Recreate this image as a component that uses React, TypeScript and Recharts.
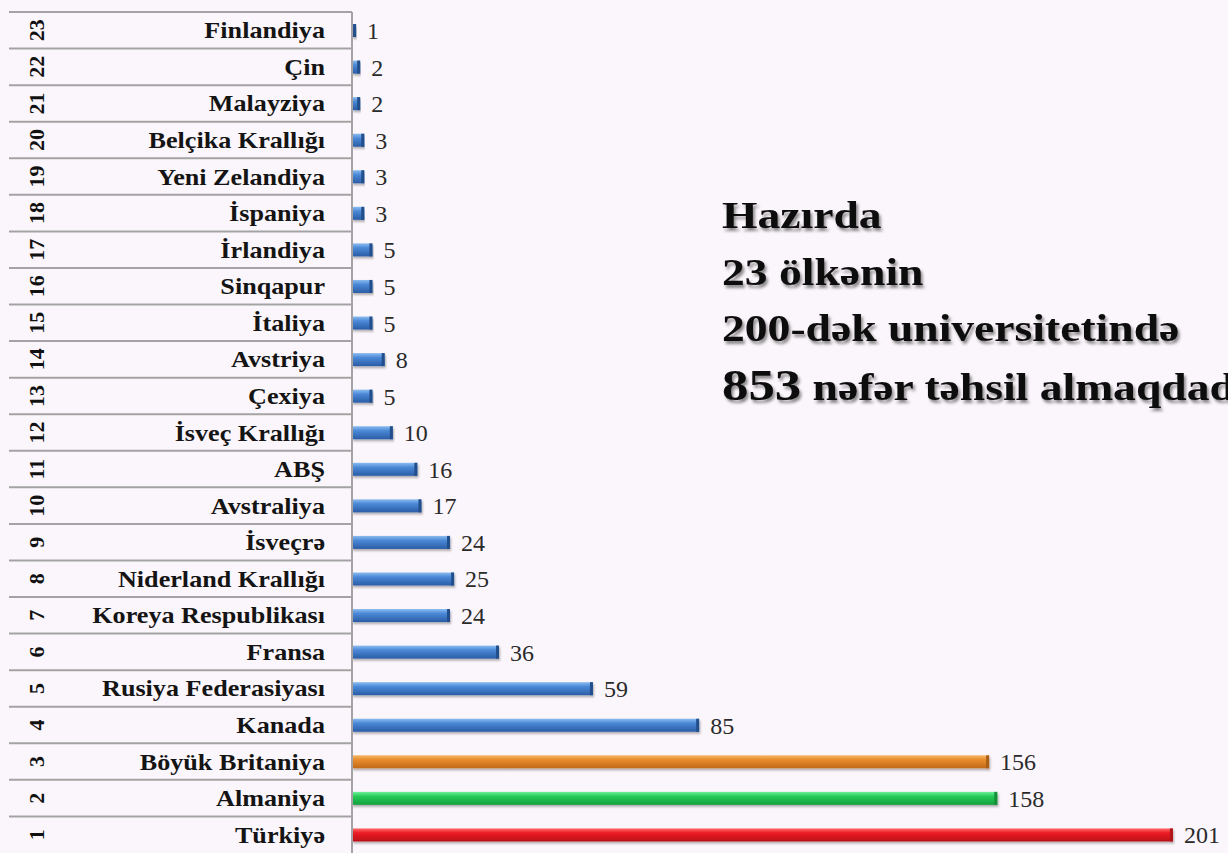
import React from "react";
import { BarChart, Bar, XAxis, YAxis, LabelList } from "recharts";

// countries in rank order (1 = Türkiyə)
const countries = [
  "Türkiyə",
  "Almaniya",
  "Böyük Britaniya",
  "Kanada",
  "Rusiya Federasiyası",
  "Fransa",
  "Koreya Respublikası",
  "Niderland Krallığı",
  "İsveçrə",
  "Avstraliya",
  "ABŞ",
  "İsveç Krallığı",
  "Çexiya",
  "Avstriya",
  "İtaliya",
  "Sinqapur",
  "İrlandiya",
  "İspaniya",
  "Yeni Zelandiya",
  "Belçika Krallığı",
  "Malayziya",
  "Çin",
  "Finlandiya",
];

const students = [201, 158, 156, 85, 59, 36, 24, 25, 24, 17, 16, 10, 5, 8, 5, 5, 5, 3, 3, 3, 2, 2, 1];

const headline = ["Hazırda", "23 ölkənin", "200-dək universitetində"];
const totalCount = "853";
const totalText = "nəfər təhsil almaqdadır";

const W = 1228;
const H = 853;
const TOP = 12;
const AXIS_W = 352;
const SERIF = "'Liberation Serif', 'Times New Roman', serif";

const data = countries.map((name, i) => ({ name, value: students[i], rank: i + 1 }));

function gradFor(rank: number) {
  if (rank === 1) return "red";
  if (rank === 2) return "green";
  if (rank === 3) return "orange";
  return "blue";
}

const capColor: Record<string, string> = {
  red: "#b0121a",
  green: "#159038",
  orange: "#a85e18",
  blue: "#244f8c",
};

function BarShape(props: any) {
  const { x, y, width, height, payload } = props;
  if (width <= 0) return null;
  const g = gradFor(payload.rank);
  const cap = Math.min(3, width);
  return (
    <g filter="url(#barShadow)">
      <rect x={x} y={y} width={width} height={height} fill={`url(#g-${g})`} />
      <rect x={x + width - cap} y={y} width={cap} height={height} fill={capColor[g]} />
    </g>
  );
}

function RowTick(props: any) {
  const { y, payload } = props;
  const band = (H - TOP) / countries.length;
  const rank = countries.indexOf(payload.value) + 1;
  return (
    <g>
      <line x1={9} x2={AXIS_W} y1={y - band / 2} y2={y - band / 2} stroke="#a3a3a3" strokeWidth={2} />
      <text
        transform={`translate(36, ${y}) rotate(-90)`}
        textAnchor="middle"
        dominantBaseline="central"
        fontFamily={SERIF}
        fontWeight="bold"
        fontSize={22}
        fill="#111"
      >
        {rank}
      </text>
      <text
        transform={`translate(325, ${y + 8}) scale(1.09, 1)`}
        textAnchor="end"
        fontFamily={SERIF}
        fontWeight="bold"
        fontSize={24}
        fill="#141414"
      >
        {payload.value}
      </text>
    </g>
  );
}

const stops = [
  ["blue", "#8bbcf0", "#4a88d6", "#2a5ca6"],
  ["orange", "#f6b566", "#e98b2b", "#c06a18"],
  ["green", "#6ef09a", "#25c956", "#15a040"],
  ["red", "#ff6a6a", "#ec1c24", "#b90f18"],
];

export default function App() {
  return (
    <div
      style={{
        position: "absolute",
        left: 0,
        top: 0,
        width: W,
        height: H,
        overflow: "hidden",
        background: "#fbf6fb",
      }}
    >
      <BarChart
        width={W}
        height={H}
        data={data}
        layout="vertical"
        margin={{ top: TOP, right: 2, left: 0, bottom: 0 }}
        barSize={13}
      >
        <defs>
          {stops.map(([id, a, b, c]) => (
            <linearGradient key={id} id={`g-${id}`} x1="0" y1="0" x2="0" y2="1">
              <stop offset="0%" stopColor={a} />
              <stop offset="35%" stopColor={b} />
              <stop offset="100%" stopColor={c} />
            </linearGradient>
          ))}
          <filter id="barShadow" x="-5%" y="-50%" width="110%" height="220%">
            <feDropShadow dx="1" dy="2" stdDeviation="1.2" floodColor="#000" floodOpacity="0.3" />
          </filter>
        </defs>
        <XAxis type="number" domain={[0, 214]} hide />
        <YAxis
          type="category"
          dataKey="name"
          reversed
          width={AXIS_W}
          interval={0}
          tickLine={false}
          axisLine={{ stroke: "#a3a3a3", strokeWidth: 2 }}
          tick={<RowTick />}
        />
        <Bar dataKey="value" shape={<BarShape />} isAnimationActive={false}>
          <LabelList
            dataKey="value"
            position="right"
            offset={11}
            fontFamily={SERIF}
            fontSize={24}
            fill="#2a2a2a"
          />
        </Bar>
      </BarChart>
      <svg
        width={W}
        height={H}
        style={{ position: "absolute", left: 0, top: 0, pointerEvents: "none" }}
      >
        <defs>
          <filter id="textShadow" x="-5%" y="-20%" width="110%" height="150%">
            <feDropShadow dx="2" dy="3" stdDeviation="1.8" floodColor="#000" floodOpacity="0.45" />
          </filter>
        </defs>
        <g fontFamily={SERIF} fontWeight="bold" fill="#0a0a0a" filter="url(#textShadow)">
          {headline.map((line, i) => (
            <text key={line} transform={`translate(722, ${228 + i * 56.5}) scale(1.2, 1)`} fontSize={38}>
              {line}
            </text>
          ))}
          <text transform="translate(722, 400) scale(1.2, 1)" fontSize={38}>
            <tspan fontSize={44}>{totalCount}</tspan>
            <tspan> {totalText}</tspan>
          </text>
        </g>
      </svg>
    </div>
  );
}
